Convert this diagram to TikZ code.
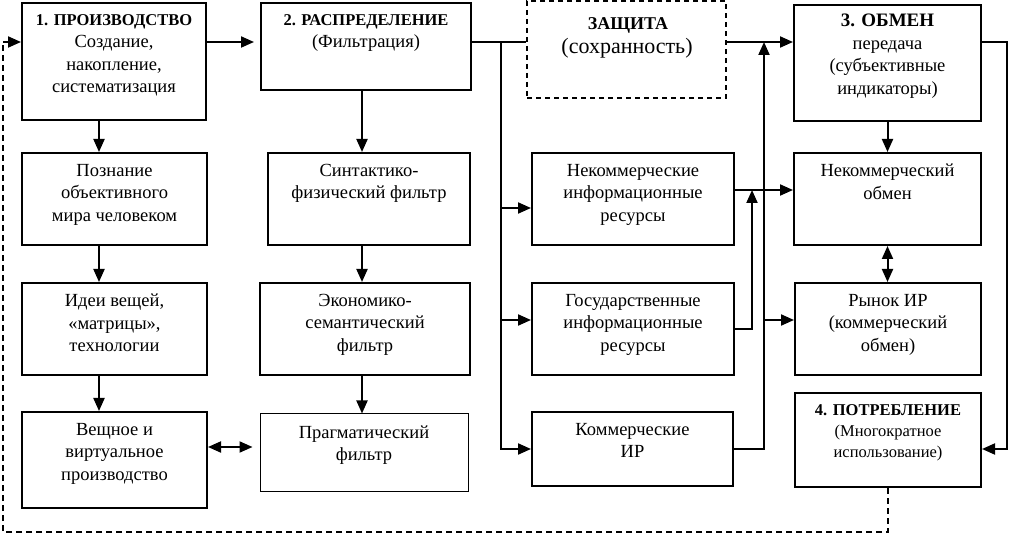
\documentclass[tikz,border=0pt]{standalone}
\usepackage{fontspec}
\setmainfont{Liberation Serif}
\usetikzlibrary{arrows.meta}
\begin{document}
\begin{tikzpicture}[x=1pt,y=-1pt,
  box/.style={draw, line width=2pt, minimum width=#1, inner sep=0pt},
  thinbox/.style={draw, line width=1pt, inner sep=0pt},
  dbox/.style={draw, line width=1.7pt, dash pattern=on 5pt off 4pt, inner sep=0pt},
  txt/.style={anchor=north, align=center, inner sep=0pt, font=\fontsize{18.5}{22.5}\selectfont},
  conn/.style={line width=2pt},
  arr/.style={-{Triangle[length=13pt,width=11pt]}},
  darr/.style={{Triangle[length=13pt,width=11pt]}-{Triangle[length=13pt,width=11pt]}},
  fbline/.style={line width=1.7pt, dash pattern=on 6pt off 4pt}
]
\useasboundingbox (0,0) rectangle (1012,534);
% boxes
\node[box=184pt, minimum height=117pt] (b1) at (114,61.5) {};
\node[box=210pt, minimum height=87pt] (b2) at (366,46.5) {};
\node[dbox, minimum width=199pt, minimum height=97pt] (zash) at (626.5,49.5) {};
\node[box=187pt, minimum height=116pt] (b3) at (887.5,63) {};
\node[box=185pt, minimum height=92pt] (poz) at (114.5,199) {};
\node[box=185pt, minimum height=92pt] (idei) at (114.5,329) {};
\node[box=185pt, minimum height=96pt] (vesh) at (114.5,460) {};
\node[box=202pt, minimum height=92pt] (sint) at (369,199) {};
\node[box=210pt, minimum height=92pt] (ekon) at (365,329) {};
\node[thinbox, minimum width=208pt, minimum height=77pt] (prag) at (364,452.5) {};
\node[box=202pt, minimum height=92pt] (nekir) at (633,199) {};
\node[box=202pt, minimum height=92pt] (gosir) at (633,329) {};
\node[box=201pt, minimum height=74pt] (komir) at (632.5,449) {};
\node[box=187pt, minimum height=92pt] (nekob) at (887.5,199) {};
\node[box=186pt, minimum height=92pt] (rynok) at (888,329) {};
\node[box=186pt, minimum height=94pt] (potr) at (888,440) {};
% texts
\node[txt] (b1t) at ([yshift=-12pt]b1.north) {{\fontsize{16.5}{20}\selectfont\bfseries 1. ПРОИЗВОДСТВО}\\Создание,\\накопление,\\систематизация};
\node[txt] (b2t) at ([yshift=-12pt]b2.north) {{\fontsize{16.5}{20}\selectfont\bfseries 2. РАСПРЕДЕЛЕНИЕ}\\(Фильтрация)};
\node[txt, anchor=center, font=\fontsize{18}{22}\selectfont\bfseries] (zt1) at (628,25) {ЗАЩИТА};
\node[txt, anchor=center, font=\fontsize{22}{26}\selectfont] (zt2) at (627,48) {(сохранность)};
\node[txt] (b3t) at ([yshift=-10pt]b3.north) {{\fontsize{19}{22}\selectfont\bfseries 3. ОБМЕН}\\передача\\(субъективные\\индикаторы)};
\node[txt] (pozt) at ([yshift=-12pt]poz.north) {Познание\\объективного\\мира человеком};
\node[txt] (ideit) at ([yshift=-12pt]idei.north) {Идеи вещей,\\«матрицы»,\\технологии};
\node[txt] (vesht) at ([yshift=-12pt]vesh.north) {Вещное и\\виртуальное\\производство};
\node[txt] (sintt) at ([yshift=-12pt]sint.north) {Синтактико-\\физический фильтр};
\node[txt] (ekont) at ([yshift=-12pt]ekon.north) {Экономико-\\семантический\\фильтр};
\node[txt] (pragt) at ([yshift=-12pt]prag.north) {Прагматический\\фильтр};
\node[txt] (nekirt) at ([yshift=-12pt]nekir.north) {Некоммерческие\\информационные\\ресурсы};
\node[txt] (gosirt) at ([yshift=-12pt]gosir.north) {Государственные\\информационные\\ресурсы};
\node[txt] (komirt) at ([yshift=-12pt]komir.north) {Коммерческие\\ИР};
\node[txt] (nekobt) at ([yshift=-12pt]nekob.north) {Некоммерческий\\обмен};
\node[txt] (rynokt) at ([yshift=-12pt]rynok.north) {Рынок ИР\\(коммерческий\\обмен)};
\node[txt, font=\fontsize{16.5}{21}\selectfont] (potrt) at ([yshift=-12pt]potr.north) {{\bfseries 4. ПОТРЕБЛЕНИЕ}\\(Многократное\\использование)};
% helper coordinates
\coordinate (y42) at (0,42);
\coordinate (xL) at (99,0);
\coordinate (xM) at (362,0);
\coordinate (jA) at (501,42);
\coordinate (r1) at (501,208);
\coordinate (r2) at (501,320);
\coordinate (jB) at (764,42);
\coordinate (jC) at (764,320);
\coordinate (jD) at (752,190);
\coordinate (jE) at (1007,42);
\coordinate (jF) at (1007,449);
\coordinate (y447) at (0,447);
\coordinate (fbL) at (3,532);
% connectors
\draw[conn, arr, shorten >=6pt] (b1.east |- y42) -- (b2.west |- y42);
\draw[conn] (b2.east |- y42) -- (zash.west |- y42);
\draw[conn, arr] (jA) |- (komir.west);
\draw[conn, arr] (r1) -- (nekir.west |- r1);
\draw[conn, arr] (r2) -- (gosir.west |- r2);
\draw[conn, arr] (zash.east |- y42) -- (b3.west |- y42);
\draw[conn, arr] (komir.east) -| (jB);
\draw[conn, arr] (jC) -- (rynok.west |- jC);
\draw[conn, arr] (gosir.east) -| (jD);
\draw[conn, arr] (nekir.east |- jD) -- (nekob.west |- jD);
\draw[conn, arr] (b3.south) -- (nekob.north);
\draw[conn, darr] (nekob.south) -- (nekob.south |- rynok.north);
\draw[conn, arr] (b3.east |- y42) -- (jE) -- (jF) -- (potr.east |- jF);
\draw[conn, arr] (b1.south -| xL) -- (poz.north -| xL);
\draw[conn, arr] (poz.south -| xL) -- (idei.north -| xL);
\draw[conn, arr] (idei.south -| xL) -- (vesh.north -| xL);
\draw[conn, arr] (b2.south -| xM) -- (sint.north -| xM);
\draw[conn, arr] (sint.south -| xM) -- (ekon.north -| xM);
\draw[conn, arr] (ekon.south -| xM) -- (prag.north -| xM);
\draw[conn, darr, shorten >=7pt] (vesh.east |- y447) -- (prag.west |- y447);
\draw[fbline] (potr.south) |- (fbL) -- (fbL |- y42);
\draw[conn, arr] (fbL |- y42) -- (b1.west |- y42);
\end{tikzpicture}
\end{document}
